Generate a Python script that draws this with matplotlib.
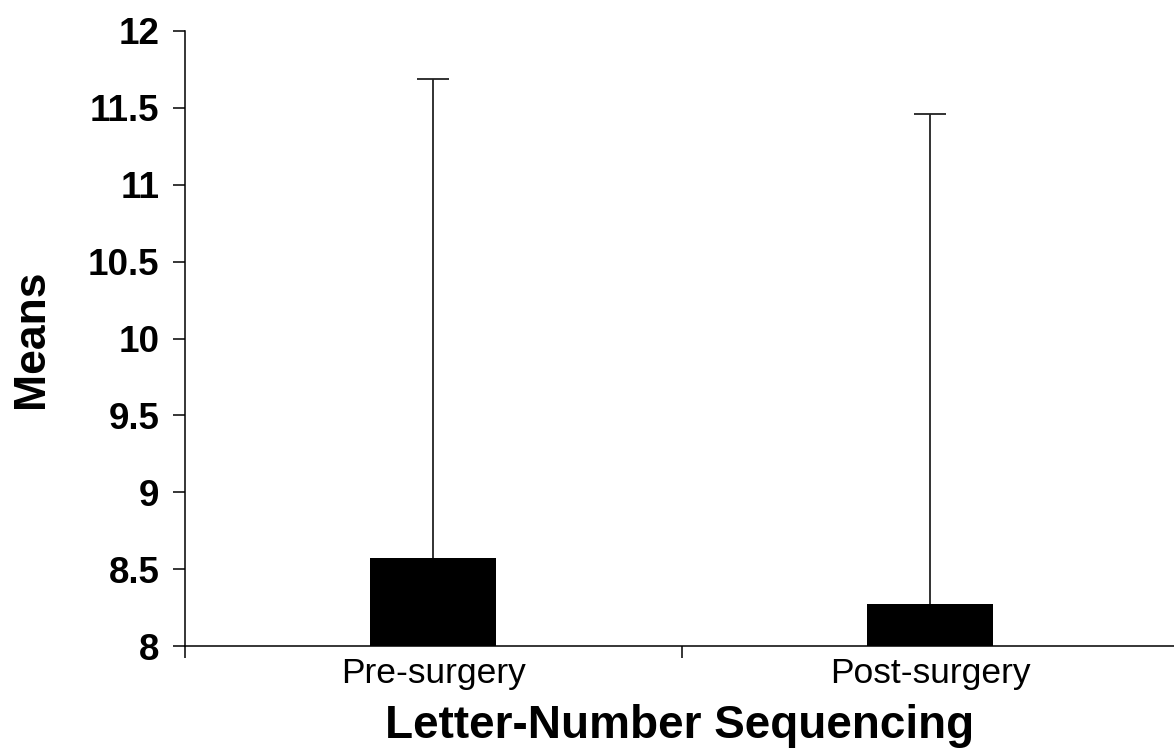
import matplotlib
matplotlib.use("Agg")
import matplotlib.pyplot as plt
from matplotlib.ticker import FixedLocator, NullFormatter

categories = ["Pre-surgery", "Post-surgery"]
means = [8.57, 8.27]
upper_err = [11.69 - 8.57, 11.46 - 8.27]
y_ticks = [8, 8.5, 9, 9.5, 10, 10.5, 11, 11.5, 12]
y_tick_labels = ["8", "8.5", "9", "9.5", "10", "10.5", "11", "11.5", "12"]

plt.rcParams['font.family'] = ['Liberation Sans', 'DejaVu Sans']

fig = plt.figure(figsize=(11.74, 7.55), dpi=100)
ax = fig.add_axes([185/1174, 109/755, 1 - 185/1174, (646-31)/755])

x = list(range(len(categories)))
ax.bar(x, means, width=0.2535, color='black', bottom=0, zorder=2)
eb = ax.errorbar(x, means, yerr=[[0]*len(means), upper_err], fmt='none',
                 ecolor='#222222', elinewidth=1.3, capsize=11.5, capthick=1.3, zorder=1)
# hide the lower caps (sitting on the bar tops)
eb[1][0].set_visible(False)

ax.set_ylim(8, 12)
ax.set_xlim(-0.5, 1.49)
ax.set_yticks(y_ticks)
ax.set_yticklabels(y_tick_labels, fontsize=26.5, fontweight='bold')
ax.set_xticks(x)
ax.set_xticklabels(categories, fontsize=25.5)
ax.xaxis.set_minor_locator(FixedLocator([-0.5, 0.5, 1.5]))
ax.xaxis.set_minor_formatter(NullFormatter())
ax.tick_params(axis='x', which='major', length=0, pad=8)
ax.tick_params(axis='x', which='minor', length=8.5, width=1.1, direction='out')
ax.tick_params(axis='y', length=8.5, width=1.1, direction='out', pad=10)

for s in ['top', 'right']:
    ax.spines[s].set_visible(False)
for s in ['left', 'bottom']:
    ax.spines[s].set_linewidth(1.1)

ax.set_xlabel("Letter-Number Sequencing", fontsize=33, fontweight='bold', labelpad=10)
ax.set_ylabel("Means", fontsize=32, fontweight='bold', labelpad=26)

fig.savefig("out.png", dpi=100)
